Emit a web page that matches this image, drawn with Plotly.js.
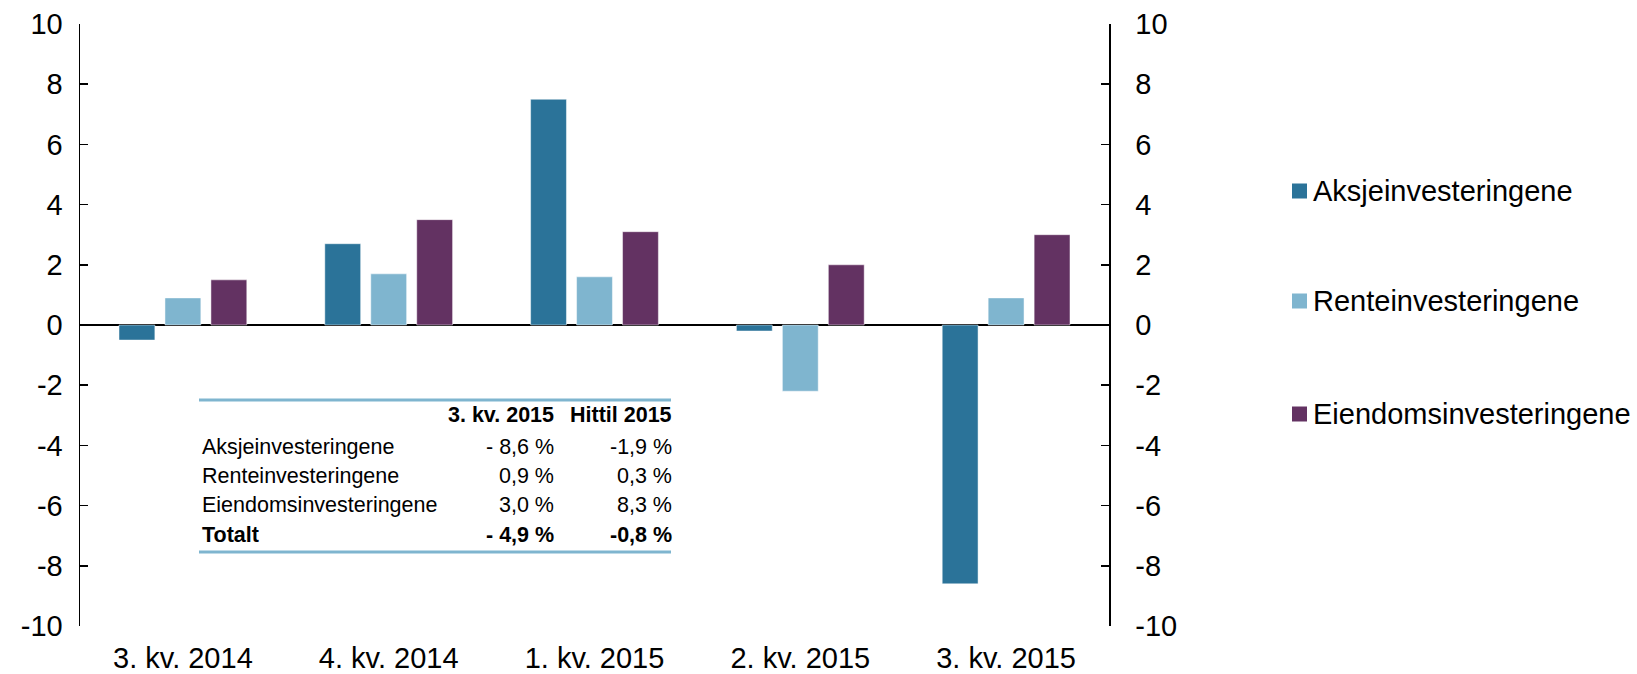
<!DOCTYPE html>
<html>
<head>
<meta charset="utf-8">
<script src="https://cdn.plot.ly/plotly-3.0.1.min.js"></script>
<style>html,body{margin:0;padding:0;background:#fff;}#chart{width:1637px;height:674px;}</style>
</head>
<body>
<div id="chart"></div>
<script>
const categories = ['3. kv. 2014', '4. kv. 2014', '1. kv. 2015', '2. kv. 2015', '3. kv. 2015'];
const aksje = [-0.5, 2.7, 7.5, -0.2, -8.6];
const rente = [0.9, 1.7, 1.6, -2.2, 0.9];
const eiendom = [1.5, 3.5, 3.1, 2.0, 3.0];
const seriesNames = ['Aksjeinvesteringene', 'Renteinvesteringene', 'Eiendomsinvesteringene'];
const yTicks = [-10, -8, -6, -4, -2, 0, 2, 4, 6, 8, 10];

const tableHeaders = ['3. kv. 2015', 'Hittil 2015'];
const tableRows = ['Aksjeinvesteringene', 'Renteinvesteringene', 'Eiendomsinvesteringene', 'Totalt'];
const tableCol1 = ['- 8,6 %', '0,9 %', '3,0 %', '- 4,9 %'];
const tableCol2 = ['-1,9 %', '0,3 %', '8,3 %', '-0,8 %'];

const W = 1637, H = 674;
const PL = 80, PR = 1109, PT = 24, PB = 626;
const FONT = '"Liberation Sans", Arial, sans-serif';
const colors = ['#2B7399', '#7FB5CF', '#633262'];

function px(x) { return (x - PL) / (PR - PL); }
function py(y) { return (PB - y) / (PB - PT); }

const allSeries = [aksje, rente, eiendom];
const traces = allSeries.map((vals, i) => ({
  type: 'bar',
  name: seriesNames[i],
  x: categories,
  y: vals,
  marker: { color: colors[i], line: { color: 'rgba(255,255,255,0.6)', width: 0.8 } },
  showlegend: false,
  hoverinfo: 'x+y'
}));
traces.push({ type: 'scatter', x: categories, y: [0,0,0,0,0], yaxis: 'y2', mode: 'none', showlegend: false, hoverinfo: 'skip' });

const annotations = [];
const shapes = [];

// Legend (drawn by hand so it can run to the page edge like the original)
const legendY = [191, 301, 414];
seriesNames.forEach((n, i) => {
  shapes.push({ type: 'rect', xref: 'paper', yref: 'paper', x0: px(1292), x1: px(1307), y0: py(legendY[i] - 7.5), y1: py(legendY[i] + 7.5), fillcolor: colors[i], line: { width: 0 } });
  annotations.push({ xref: 'paper', yref: 'paper', x: px(1311), y: py(legendY[i]), text: n, showarrow: false, xanchor: 'left', yanchor: 'middle', font: { family: FONT, size: 29, color: '#000' } });
});

// Table
const fs = 21.5;
const rowY = [447, 476, 505, 535];
const headerY = 415;
const labelX = 200, col1X = 556, col2X = 674;
tableHeaders.forEach((h, j) => {
  annotations.push({ xref: 'paper', yref: 'paper', x: px(j === 0 ? col1X : col2X), y: py(headerY), text: '<b>' + h + '</b>', showarrow: false, xanchor: 'right', yanchor: 'middle', font: { family: FONT, size: fs, color: '#000' } });
});
tableRows.forEach((r, i) => {
  const bold = i === tableRows.length - 1;
  const wrap = t => bold ? '<b>' + t + '</b>' : t;
  annotations.push({ xref: 'paper', yref: 'paper', x: px(labelX), y: py(rowY[i]), text: wrap(r), showarrow: false, xanchor: 'left', yanchor: 'middle', font: { family: FONT, size: fs, color: '#000' } });
  annotations.push({ xref: 'paper', yref: 'paper', x: px(col1X), y: py(rowY[i]), text: wrap(tableCol1[i]), showarrow: false, xanchor: 'right', yanchor: 'middle', font: { family: FONT, size: fs, color: '#000' } });
  annotations.push({ xref: 'paper', yref: 'paper', x: px(col2X), y: py(rowY[i]), text: wrap(tableCol2[i]), showarrow: false, xanchor: 'right', yanchor: 'middle', font: { family: FONT, size: fs, color: '#000' } });
});
[400, 552].forEach(yy => {
  shapes.push({ type: 'line', xref: 'paper', yref: 'paper', x0: px(199), x1: px(671), y0: py(yy), y1: py(yy), line: { color: '#7FB5CF', width: 3 } });
});

const axisCommon = {
  range: [-10, 10],
  tickvals: yTicks,
  ticktext: yTicks.map(String),
  ticks: 'inside',
  ticklen: 8,
  tickwidth: 1.5,
  tickcolor: '#000',
  showline: true,
  linecolor: '#000',
  linewidth: 1.5,
  showgrid: false,
  zeroline: false,
  automargin: false,
  tickfont: { family: FONT, size: 29, color: '#000' },
  fixedrange: true
};

const layout = {
  width: W, height: H,
  margin: { l: PL, r: W - PR, t: PT, b: H - PB, pad: 0 },
  paper_bgcolor: '#fff', plot_bgcolor: '#fff',
  barmode: 'group',
  bargap: 0.33,
  bargroupgap: 0.22,
  xaxis: {
    type: 'category',
    range: [-0.5, 4.5],
    showline: false, showgrid: false, zeroline: false, ticks: '',
    automargin: false,
    tickfont: { family: FONT, size: 29, color: '#000' },
    ticklabelstandoff: 12,
    fixedrange: true
  },
  yaxis: Object.assign({}, axisCommon, { side: 'left', ticklabelstandoff: 10, zeroline: true, zerolinecolor: '#000', zerolinewidth: 1.5 }),
  yaxis2: Object.assign({}, axisCommon, { side: 'right', overlaying: 'y', ticklabelstandoff: 19 }),
  showlegend: false,
  annotations: annotations,
  shapes: shapes
};

Plotly.newPlot('chart', traces, layout, { displayModeBar: false, staticPlot: true });
</script>
</body>
</html>
